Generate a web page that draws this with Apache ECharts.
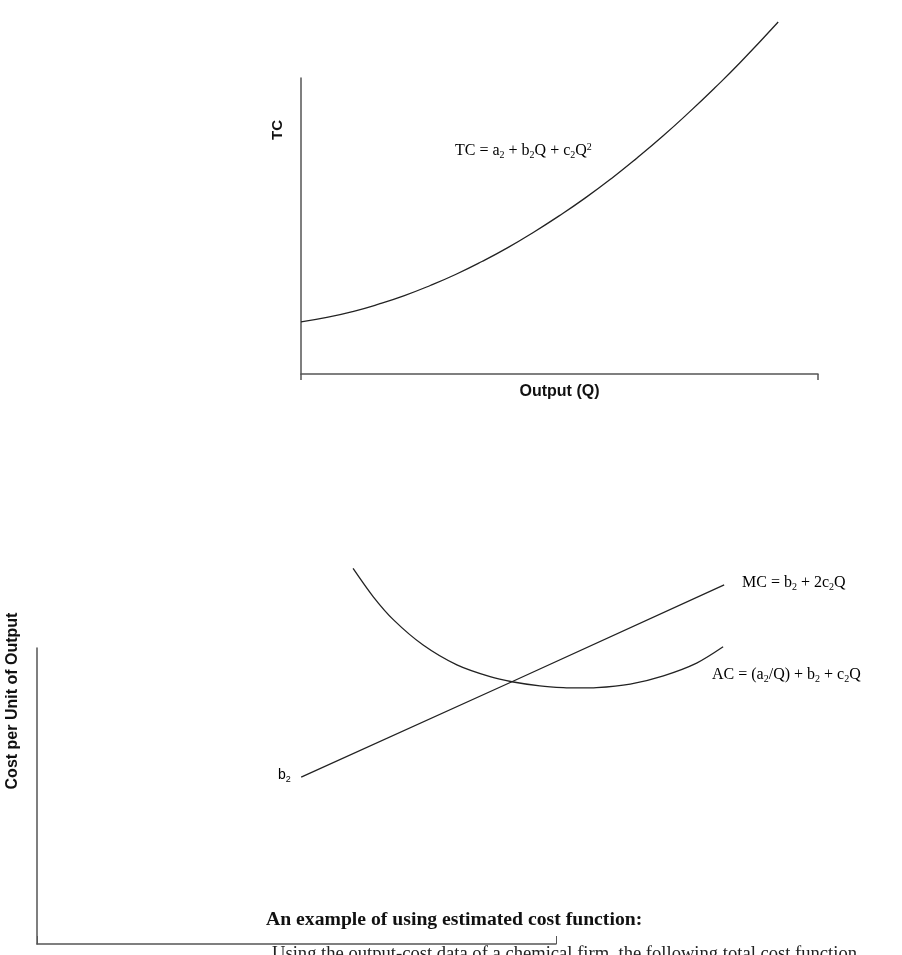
<!DOCTYPE html>
<html><head><meta charset="utf-8">
<script src="https://cdn.jsdelivr.net/npm/echarts@6/dist/echarts.min.js"></script>
<style>html,body{margin:0;padding:0;background:#fff}#c{width:902px;height:955px}</style>
</head><body><div id="c"></div>
<script>
// Top chart: total cost curve (Output Q vs TC, arbitrary units)
const tcQ = [0, 5, 10, 15, 20, 25, 30, 35, 40, 45, 50, 55, 60, 65, 70, 75, 80, 85, 92.3];
const tcVal = [17.6, 19.1, 21.1, 23.6, 26.5, 29.9, 33.7, 38.0, 42.7, 47.9, 53.5, 59.5, 66.0, 73.0, 80.4, 88.3, 96.6, 105.3, 118.9];
// Bottom chart: marginal cost (straight line) and average cost (U-shape)
const mcQ = [50.9, 91.5, 132.4];
const mcVal = [56.4, 88.6, 121.3];
const acQ = [60.9, 64.8, 68.7, 74.4, 80.9, 87.3, 91.5, 96.9, 101.4, 104.6, 107.8, 114.3, 120.7, 127.1, 132.2];
const acVal = [126.9, 117.3, 109.5, 101.0, 94.3, 90.3, 88.6, 87.2, 86.6, 86.5, 86.6, 87.8, 90.6, 94.9, 100.4];

const zip = (a, b) => a.map((v, i) => [v, b[i]]);
const serif = '"Liberation Serif", "Times New Roman", serif';
const sans = '"Liberation Sans", Arial, sans-serif';
const rich = {
  t: {fontFamily: serif, fontSize: 16, color: '#333'},
  s: {fontFamily: serif, fontSize: 10, color: '#333', padding: [8, 0, 0, 0]},
  p: {fontFamily: serif, fontSize: 10, color: '#333', padding: [0, 0, 8, 0]}
};
const axLine = {show: true, lineStyle: {color: '#555', width: 1.5}};

const chart = echarts.init(document.getElementById('c'), null, {renderer: 'canvas'});
chart.setOption({
  animation: false,
  backgroundColor: '#fff',
  grid: [
    {left: 301, top: 78, width: 517, height: 296},
    {left: 37, top: 648, width: 519, height: 296},
    // same origin and scale as grid 1, extended to the right so the curves are not cut
    {left: 37, top: 648, width: 778.5, height: 296}
  ],
  xAxis: [
    {gridIndex: 0, type: 'value', min: 0, max: 100, interval: 100,
     axisLine: axLine, axisTick: {show: true, length: 6, lineStyle: {color: '#555', width: 1.5}},
     axisLabel: {show: false}, splitLine: {show: false},
     name: 'Output (Q)', nameLocation: 'middle', nameGap: 10,
     nameTextStyle: {fontFamily: sans, fontWeight: 'bold', fontSize: 16, color: '#111'}},
    {gridIndex: 1, type: 'value', min: 0, max: 100, interval: 100,
     axisLine: axLine, axisTick: {show: true, inside: true, length: 8, lineStyle: {color: '#555', width: 1}},
     axisLabel: {show: false}, splitLine: {show: false}},
    {gridIndex: 2, type: 'value', min: 0, max: 150, show: false}
  ],
  yAxis: [
    {gridIndex: 0, type: 'value', min: 0, max: 100, axisLine: axLine,
     axisTick: {show: false}, axisLabel: {show: false}, splitLine: {show: false}},
    {gridIndex: 1, type: 'value', min: 0, max: 100, axisLine: axLine,
     axisTick: {show: false}, axisLabel: {show: false}, splitLine: {show: false}},
    {gridIndex: 2, type: 'value', min: 0, max: 100, show: false}
  ],
  series: [
    {type: 'line', name: 'TC', xAxisIndex: 0, yAxisIndex: 0, data: zip(tcQ, tcVal),
     smooth: true, showSymbol: false, clip: false, lineStyle: {color: '#222', width: 1.3}},
    {type: 'line', name: 'MC', xAxisIndex: 2, yAxisIndex: 2, data: zip(mcQ, mcVal),
     smooth: false, showSymbol: false, clip: false, lineStyle: {color: '#222', width: 1.3}},
    {type: 'line', name: 'AC', xAxisIndex: 2, yAxisIndex: 2, data: zip(acQ, acVal),
     smooth: 0.3, showSymbol: false, clip: false, lineStyle: {color: '#222', width: 1.3}}
  ],
  graphic: [
    {type: 'text', x: 278, y: 130, rotation: Math.PI / 2, style: {text: 'TC', font: 'bold 15px ' + sans, fill: '#111', align: 'center', verticalAlign: 'middle'}},
    {type: 'text', x: 13, y: 701, rotation: Math.PI / 2, style: {text: 'Cost per Unit of Output', font: 'bold 16px ' + sans, fill: '#111', align: 'center', verticalAlign: 'middle'}},
    {type: 'text', x: 455, y: 142, style: {text: '{t|TC = a}{s|2}{t| + b}{s|2}{t|Q + c}{s|2}{t|Q}{p|2}', rich: rich}},
    {type: 'text', x: 742, y: 574, style: {text: '{t|MC = b}{s|2}{t| + 2c}{s|2}{t|Q}', rich: rich}},
    {type: 'text', x: 712, y: 666, style: {text: '{t|AC = (a}{s|2}{t|/Q) + b}{s|2}{t| + c}{s|2}{t|Q}', rich: rich}},
    {type: 'text', x: 278, y: 767, style: {text: '{b|b}{c|2}', rich: {b: {fontFamily: sans, fontSize: 14, color: '#222'}, c: {fontFamily: sans, fontSize: 9, color: '#222', padding: [8, 0, 0, 0]}}}},
    {type: 'text', x: 266, y: 920, style: {text: 'An example of using estimated cost function:', font: 'bold 19.7px ' + serif, fill: '#111', verticalAlign: 'middle'}},
    {type: 'text', x: 272, y: 954, style: {text: 'Using the output-cost data of a chemical firm, the following total cost function', font: '18.6px ' + serif, fill: '#222', verticalAlign: 'middle'}}
  ]
});
</script></body></html>
